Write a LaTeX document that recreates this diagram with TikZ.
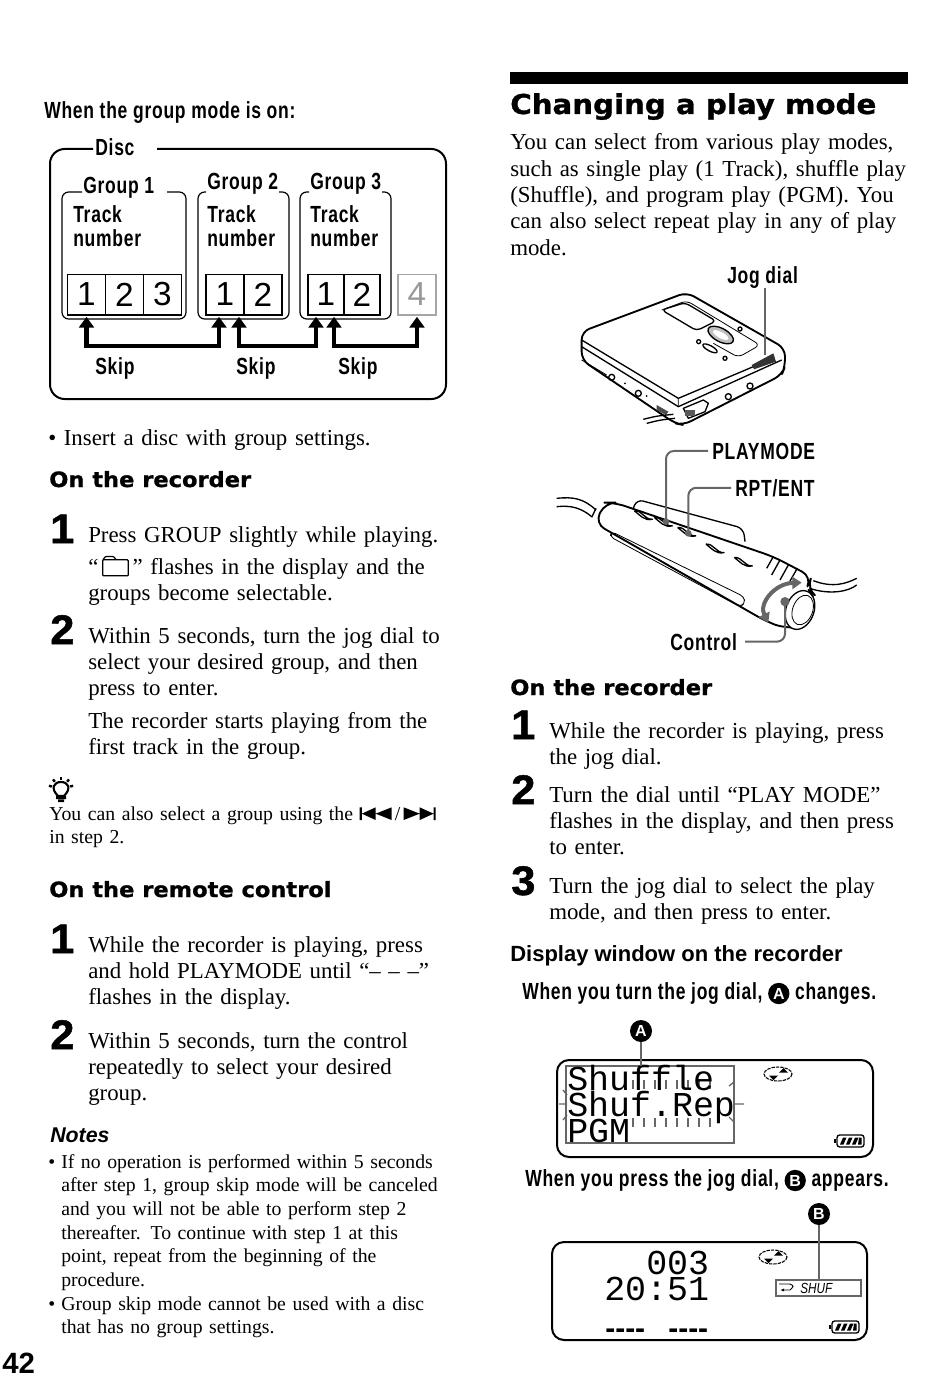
\documentclass[tikz,border=0pt]{standalone}
\usepackage{fontspec}
\setmainfont{Liberation Serif}
\newfontfamily\labelfont[FakeStretch=0.75,LetterSpace=3.2]{Liberation Sans Bold}
\newfontfamily\plainsans{Liberation Sans}
\newfontfamily\boldsans{Liberation Sans Bold}
\newfontfamily\shuffont[FakeStretch=0.8]{Liberation Sans Italic}
\newfontfamily\headfont[FakeBold=1,FakeStretch=1.07]{DejaVu Sans Bold}
\newfontfamily\stepfont[FakeBold=1.2,FakeStretch=1.05]{Liberation Sans Bold}
\newfontfamily\lcdfont{Liberation Mono}
\usetikzlibrary{arrows.meta, positioning, calc}
\definecolor{leadergray}{HTML}{666666}

\newcommand{\folderglyph}{\tikz[x=1pt,y=1pt,baseline=-4pt]{\draw[line width=0.9pt,rounded corners=0.6pt] (0,-5) -- (0,7) -- (2,9.5) -- (8,9.5) -- (10,7) -- (19,7) -- (19,-5) -- cycle (0,7) -- (10,7);}}
\newcommand{\prevglyph}{\tikz[x=1pt,y=1pt,baseline=0pt]{\fill (0,0) rectangle (1.6,9.5) (1.6,4.75) -- (12,9.5) -- (12,0) -- cycle (12,4.75) -- (24,9.5) -- (24,0) -- cycle;}}
\newcommand{\nextglyph}{\tikz[x=1pt,y=1pt,baseline=0pt]{\fill (24,0) rectangle (22.4,9.5) (22.4,4.75) -- (12,9.5) -- (12,0) -- cycle (12,4.75) -- (0,9.5) -- (0,0) -- cycle;}}
\newcommand{\badgeglyph}[1]{\tikz[baseline=(bdg.base)]\node[circle,fill=black,text=white,inner sep=0pt,minimum size=16pt,font=\boldsans\fontsize{12}{12}\selectfont] (bdg) {#1};}

\tikzset{
  bodytext/.style={anchor=base west, inner sep=0pt, align=left, text width=305pt, font=\fontsize{17.15}{19.7}\selectfont},
  smalltext/.style={anchor=base west, inner sep=0pt, align=left, text width=300pt, font=\fontsize{14.8}{17.8}\selectfont},
  headtext/.style={anchor=base west, inner sep=0pt, font=\headfont\fontsize{15.8}{18}\selectfont},
  labeltext/.style={anchor=base west, inner sep=0pt, align=left, font=\labelfont\fontsize{17.5}{17.3}\selectfont},
  stepnum/.style={anchor=base west, inner sep=0pt, font=\stepfont\fontsize{31}{31}\selectfont},
  cellbox/.style={draw, line width=1pt, inner sep=0pt, outer sep=0pt, minimum width=#1, minimum height=30.5pt, font=\plainsans\fontsize{25}{25}\selectfont},
  skiparrow/.style={line width=3.4pt, {Triangle[width=11pt,length=8pt]}-{Triangle[width=11pt,length=8pt]}},
  leader/.style={leadergray, line width=1.5pt, rounded corners=6pt},
  lcdtext/.style={anchor=base west, inner sep=0pt, font=\lcdfont\fontsize{26.2}{26}\selectfont},
  lcddash/.style={anchor=base west, inner sep=0pt, font=\boldsans\fontsize{22.5}{24}\selectfont},
  badgenode/.style={circle, fill=black, text=white, inner sep=0pt, minimum size=16.5pt, font=\boldsans\fontsize{12}{12}\selectfont},
  devline/.style={line width=1pt, line join=round},
  thinline/.style={line width=0.6pt, line join=round},
  discicon/.pic={
    \draw[line width=0.8pt, dash pattern=on 2.5pt off 0.8pt] (0,0) ellipse (14 and 7);
    \fill (-9,1.5) -- (0,1.5) -- (-4.5,6) -- cycle (1,-1.5) -- (10,-1.5) -- (5.5,-6) -- cycle;
  },
  batteryicon/.pic={
    \draw[line width=1pt, rounded corners=2pt] (-13,-6) rectangle (14,6);
    \draw[line width=1pt] (-15,-2) -- (-15,2);
    \foreach \s in {-10,-4,2} \fill (\s,3.5) -- (\s+3.5,3.5) -- (\s+6.5,-3.5) -- (\s+3,-3.5) -- cycle;
    \fill (8,3.5) -- (11.5,3.5) -- (11.5,-3.5) -- (9,-3.5) -- cycle;
  }
}

\begin{document}
\begin{tikzpicture}[x=0.75pt, y=-0.75pt]
  \useasboundingbox (0,0) rectangle (950,1377);

  % left column, disc figure
  \node[labeltext] (grouphead) at (44,119) {When the group mode is on:};
  \draw[line width=1.5pt, rounded corners=11pt] (157,149) -- (446,149) -- (446,399) -- (50,399) -- (50,149) -- (93,149);
  \node[labeltext] (disclabel) at (95,156) {Disc};
  \draw[line width=0.9pt, rounded corners=5pt] (167,192) -- (186,192) -- (186,319) -- (62,319) -- (62,192) -- (82,192);
  \draw[line width=0.9pt, rounded corners=5pt] (279,192) -- (289,192) -- (289,319) -- (198,319) -- (198,192) -- (206,192);
  \draw[line width=0.9pt, rounded corners=5pt] (382,192) -- (391,192) -- (391,319) -- (300,319) -- (300,192) -- (309,192);
  \node[labeltext] (g1label) at (83,194) {Group 1};
  \node[labeltext] (g2label) at (207,190) {Group 2};
  \node[labeltext] (g3label) at (310,190) {Group 3};
  \node[labeltext] (g1track) at (73,246) {Track\\number};
  \node[labeltext] (g2track) at (207,246) {Track\\number};
  \node[labeltext] (g3track) at (310,246) {Track\\number};

  \node[cellbox=28.5pt] (g1a) at (86.5,294.5) {1};
  \node[cellbox=28.5pt, right=0pt of g1a] (g1b) {2};
  \node[cellbox=28.5pt, right=0pt of g1b] (g1c) {3};
  \node[cellbox=28.5pt] (g2a) at (225,294.5) {1};
  \node[cellbox=28.5pt, right=0pt of g2a] (g2b) {2};
  \node[cellbox=27pt] (g3a) at (326,294.5) {1};
  \node[cellbox=27pt, right=0pt of g3a] (g3b) {2};
  \node[cellbox=28.5pt, draw=black!35, text=black!40] (g4a) at (417,294.5) {4};

  \draw[skiparrow] ([yshift=-1.5pt]g1a.south) -- ++(0,29) -| ([xshift=-4.5pt,yshift=-1.5pt]g2a.south);
  \draw[skiparrow] ([xshift=10.5pt,yshift=-1.5pt]g2a.south) -- ++(0,29) -| ([xshift=-7.5pt,yshift=-1.5pt]g3a.south);
  \draw[skiparrow] ([xshift=6pt,yshift=-1.5pt]g3a.south) -- ++(0,29) -| ([yshift=-1.5pt]g4a.south);
  \node[labeltext] (skipa) at (95,374) {Skip};
  \node[labeltext] (skipb) at (236,374) {Skip};
  \node[labeltext] (skipc) at (338,374) {Skip};

  % left column, text
  \node[bodytext] (insert) at (48,445) {• Insert a disc with group settings.};
  \node[headtext] (recorderhead) at (49,487) {On the recorder};
  \node[stepnum] (lstep1) at (50,543) {1};
  \node[bodytext] (lstep1text) at (88,542) {Press GROUP slightly while playing.};
  \node[bodytext] (lstep1more) at (88,574.5) {“\,\folderglyph\,” flashes in the display and the\\groups become selectable.};
  \node[stepnum] (lstep2) at (50,644) {2};
  \node[bodytext] (lstep2text) at (88,643) {Within 5 seconds, turn the jog dial to\\select your desired group, and then\\press to enter.};
  \node[bodytext] (lstep2more) at (88,728) {The recorder starts playing from the\\first track in the group.};
  % hint lamp
  \draw[line width=1.6pt] (58,796) .. controls (50,788) and (54,782) .. (61,782) .. controls (68,782) and (72,788) .. (64,796) -- cycle;
  \fill (56,796) rectangle (66,799) (58,799.5) rectangle (64,802);
  \foreach \a in {-165,-130,-90,-50,-15} \draw[line width=1.8pt] ($(61,789)+(\a:9.5)$) -- ($(61,789)+(\a:12.5)$);
  \node[smalltext] (hint) at (49,820) {You can also select a group using the \prevglyph\,/\,\nextglyph\\in step 2.};
  \node[headtext] (remotehead) at (49,897) {On the remote control};
  \node[stepnum] (rstep1) at (50,953) {1};
  \node[bodytext] (rstep1text) at (88,952) {While the recorder is playing, press\\and hold PLAYMODE until “– – –”\\flashes in the display.};
  \node[stepnum] (rstep2) at (50,1049) {2};
  \node[bodytext] (rstep2text) at (88,1048) {Within 5 seconds, turn the control\\repeatedly to select your desired\\group.};
  \node[anchor=base west, inner sep=0pt, font=\boldsans\itshape\fontsize{16}{18}\selectfont] (noteshead) at (50,1142) {Notes};
  \node[smalltext] (notea) at (48,1168) {•};
  \node[smalltext] (noteatext) at (61,1168) {If no operation is performed within 5 seconds\\after step 1, group skip mode will be canceled\\and you will not be able to perform step 2\\thereafter. To continue with step 1 at this\\point, repeat from the beginning of the\\procedure.};
  \node[smalltext] (noteb) at (48,1310) {•};
  \node[smalltext] (notebtext) at (61,1310) {Group skip mode cannot be used with a disc\\that has no group settings.};
  \node[anchor=base west, inner sep=0pt, font=\boldsans\fontsize{22}{22}\selectfont] (pagenum) at (2,1373) {42};

  % right column, text
  \fill (510,72) rectangle (908,84);
  \node[headtext, font=\headfont\fontsize{20.5}{24}\selectfont] (title) at (510,114) {Changing a play mode};
  \node[bodytext] (intro) at (510,150) {You can select from various play modes,\\such as single play (1 Track), shuffle play\\(Shuffle), and program play (PGM). You\\can also select repeat play in any of play\\mode.};

  % recorder
  \begin{scope}[shift={(540,260)}, scale=1/3]
    \draw[devline, line width=1.4pt, rounded corners=6pt] (125,215) -- (440,97) -- (735,265) -- (735,320) -- (725,345) -- (430,495) -- (405,490) -- (125,300) -- cycle;
    \draw[devline] (125,240) -- (415,415) -- (640,320);
    \draw[devline] (125,260) -- (415,440) -- (725,300);
    \draw[thinline] (125,300) -- (200,345) (415,415) -- (415,440);
    \draw[thinline, rounded corners=4pt] (365,150) -- (440,122) -- (660,255) -- (595,292) -- (520,250);
    \draw[devline, rounded corners=3pt] (365,150) -- (435,128) -- (528,183) -- (470,212) -- cycle;
    \draw[devline, fill=black!25, rotate around={-28:(542,225)}] (542,225) ellipse (42 and 20);
    \fill[white, rotate around={-28:(542,225)}] (542,225) ellipse (26 and 9);
    \draw[devline] (600,207) circle (6) (476,245) circle (6) (555,295) circle (6);
    \draw[devline, rotate around={-28:(510,265)}] (510,265) ellipse (24 and 8);
    \fill[black!80] (635,315) -- (700,280) -- (708,305) -- (642,328) -- cycle;
    \draw[devline] (215,352) circle (9) (295,400) circle (9) (565,410) circle (9) (630,378) circle (9);
    \fill (255,370) circle (3) (320,408) circle (3);
    \fill[black!70] (350,435) -- (385,455) -- (378,465) -- (350,450) -- cycle;
    \draw[devline] (310,478) .. controls (350,468) .. (400,463) (320,490) .. controls (360,480) .. (405,475);
    \draw[devline, fill=white] (430,445) -- (490,420) -- (505,430) -- (495,455) -- (445,475) -- cycle;
    \fill[black!65] (436,450) rectangle (465,468);
  \end{scope}

  % remote
  \begin{scope}[shift={(540,260)}, scale=1/3]
    \draw[devline] (50,715) .. controls (100,710) and (130,715) .. (168,750);
    \draw[devline] (50,740) .. controls (95,735) and (125,745) .. (155,770);
    \draw[devline] (168,745) -- (155,772);
    \draw[devline, rounded corners=5pt] (280,745) -- (290,718) -- (610,805) -- (615,845);
    \draw[devline, line width=1.4pt, rounded corners=8pt, fill=white] (165,790) -- (195,728) -- (225,728) -- (700,890) -- (815,950) -- (800,985) -- (830,1010) -- (790,1100) -- (735,1105) -- (680,1085) -- cycle;
    \draw[thinline, rounded corners=3pt] (215,815) -- (612,1010) -- (615,1030) -- (600,1040) -- (210,830) -- cycle;
    \foreach \bx/\by in {310/765,370/785,440/815,525/865,610/905}
      \draw[devline, rotate around={-25:(\bx,\by)}] (\bx-30,\by) .. controls (\bx-10,\by-12) and (\bx+10,\by+12) .. (\bx+30,\by) .. controls (\bx+10,\by+16) and (\bx-10,\by+4) .. (\bx-30,\by);
    \draw[devline] (680,925) -- (700,890) (720,900) -- (695,945) (745,915) -- (720,960) (770,928) -- (745,972);
    \draw[devline] (820,962) .. controls (880,985) and (920,970) .. (950,955);
    \draw[devline] (808,985) .. controls (870,1005) and (925,995) .. (950,975);
    \draw[devline, fill=white, rotate around={-20:(780,1050)}] (780,1050) ellipse (42 and 60);
    \draw[thinline, rotate around={-20:(788,1050)}] (788,1050) ellipse (30 and 46);
    \draw[leadergray, line width=3pt, {Triangle[width=9pt,length=7pt]}-{Triangle[width=9pt,length=7pt]}] (785,968) .. controls (705,970) and (655,1030) .. (685,1088);
    \coordinate (playdot) at (378,785);
    \coordinate (rptdot) at (445,820);
    \coordinate (controldot) at (735,1025);
    \coordinate (jogend) at (675,285);
    \fill[leadergray] (playdot) circle (10) (rptdot) circle (10) (controldot) circle (14);
  \end{scope}

  \node[labeltext] (joglabel) at (727,283) {Jog dial};
  \node[labeltext] (playlabel) at (712,459) {PLAYMODE};
  \node[labeltext] (rptlabel) at (735,496) {RPT/ENT};
  \node[labeltext] (controllabel) at (670,650) {Control};
  \draw[leader] (jogend |- joglabel.south) -- (jogend);
  \draw[leader] ([xshift=-3pt]playlabel.west) -- (playdot |- playlabel.west) -- (playdot);
  \draw[leader] ([xshift=-3pt]rptlabel.west) -- (rptdot |- rptlabel.west) -- (rptdot);
  \draw[leader] ([xshift=6pt]controllabel.east) -- (controldot |- controllabel.east) -- (controldot);

  % right column, steps
  \node[headtext] (recorderright) at (510,695) {On the recorder};
  \node[stepnum] (mstep1) at (511,739) {1};
  \node[bodytext] (mstep1text) at (549,738) {While the recorder is playing, press\\the jog dial.};
  \node[stepnum] (mstep2) at (511,804) {2};
  \node[bodytext] (mstep2text) at (549,802) {Turn the dial until “PLAY MODE”\\flashes in the display, and then press\\to enter.};
  \node[stepnum] (mstep3) at (511,895) {3};
  \node[bodytext] (mstep3text) at (549,893) {Turn the jog dial to select the play\\mode, and then press to enter.};
  \node[anchor=base west, inner sep=0pt, font=\boldsans\fontsize{16.5}{18}\selectfont] (windowhead) at (510,961) {Display window on the recorder};
  \node[labeltext] (turnline) at (522,999) {When you turn the jog dial, \badgeglyph{A} changes.};
  \node[labeltext] (pressline) at (525,1186) {When you press the jog dial, \badgeglyph{B} appears.};

  % first display
  \draw[line width=1.5pt, rounded corners=9pt] (557,1060) rectangle (873,1157);
  \node[draw=leadergray, line width=1.4pt, inner sep=0pt, outer sep=0pt, minimum width=126pt, minimum height=57.75pt] (modebox) at (650,1104.5) {};
  \foreach \x in {633,644,...,720} {
    \draw[leadergray, line width=1pt] (\x,1080) -- (\x,1089);
    \draw[leadergray, line width=1pt] (\x,1118) -- (\x,1127);
  }
  \draw[leadergray, line width=1pt] (559,1104) -- (567,1104) (563,1090) -- (567,1095) (563,1120) -- (567,1115);
  \draw[leadergray, line width=1pt] (735,1104) -- (744,1104) (729,1086) -- (734,1082) (729,1117) -- (734,1122);
  \node[lcdtext] (lcdshuffle) at (567,1090) {Shuffle};
  \node[lcdtext] (lcdrepeat) at (567,1116) {Shuf.Rep};
  \node[lcdtext] (lcdpgm) at (567,1142) {PGM};
  \node[badgenode] (badgeA) at (641,1031) {A};
  \draw[leadergray, line width=1.5pt] (badgeA) -- (badgeA |- modebox.north);
  \pic at (778,1074) {discicon};
  \pic at (850,1141) {batteryicon};

  % second display
  \draw[line width=1.5pt, rounded corners=9pt] (552,1242) rectangle (867,1340);
  \node[lcdtext] (lcdtrack) at (646,1274) {003};
  \node[lcdtext] (lcdtime) at (604,1300) {20:51};
  \node[lcddash] (lcddasha) at (605,1338) {----};
  \node[lcddash] (lcddashb) at (668,1338) {----};
  \node[draw=leadergray, line width=1.4pt, inner sep=0pt, outer sep=0pt, minimum width=64pt, minimum height=12pt] (shufbox) at (818.5,1288) {};
  \node[anchor=base west, inner sep=0pt, font=\shuffont\fontsize{11}{11}\selectfont] (shuftext) at (800,1293) {SHUF};
  \draw[line width=0.7pt, -{Latex[length=3pt]}] (779,1284) -- (790,1284) .. controls (794,1286) .. (790,1290) -- (780,1290);
  \node[badgenode] (badgeB) at (819,1214) {B};
  \draw[leadergray, line width=1.5pt] (badgeB) -- (badgeB |- shufbox.north);
  \pic at (773,1257) {discicon};
  \pic at (845,1327) {batteryicon};
\end{tikzpicture}
\end{document}
